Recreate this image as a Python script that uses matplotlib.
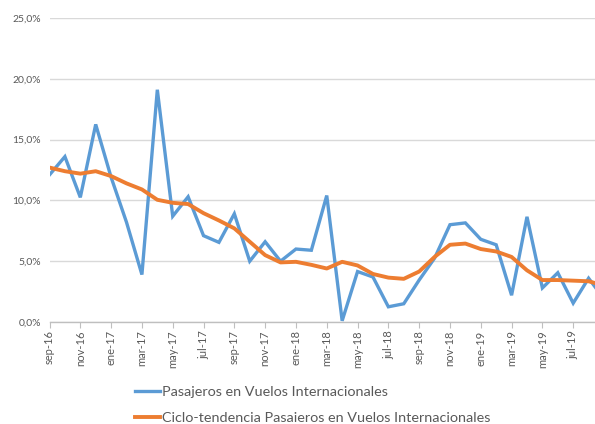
import matplotlib
matplotlib.use("Agg")
import matplotlib.pyplot as plt
from matplotlib.ticker import FuncFormatter

months = ["sep-16","oct-16","nov-16","dic-16","ene-17","feb-17","mar-17","abr-17","may-17","jun-17",
          "jul-17","ago-17","sep-17","oct-17","nov-17","dic-17","ene-18","feb-18","mar-18","abr-18",
          "may-18","jun-18","jul-18","ago-18","sep-18","oct-18","nov-18","dic-18","ene-19","feb-19",
          "mar-19","abr-19","may-19","jun-19","jul-19","ago-19","sep-19"]
pasajeros = [12.1, 13.6, 10.25, 16.25, 11.9, 8.2, 3.9, 19.1, 8.7, 10.3,
             7.1, 6.55, 8.9, 5.0, 6.6, 5.0, 6.0, 5.9, 10.4, 0.1,
             4.15, 3.7, 1.25, 1.5, 3.45, 5.25, 8.0, 8.15, 6.8, 6.35,
             2.2, 8.65, 2.8, 4.05, 1.55, 3.6, 1.9]
tendencia = [12.7, 12.4, 12.2, 12.4, 12.0, 11.4, 10.9, 10.05, 9.8, 9.7,
             8.95, 8.35, 7.7, 6.6, 5.5, 4.9, 4.95, 4.7, 4.4, 4.95,
             4.65, 3.95, 3.65, 3.55, 4.15, 5.35, 6.35, 6.45, 6.0, 5.8,
             5.35, 4.25, 3.45, 3.45, 3.4, 3.35, 3.0]
yticks = [0, 5, 10, 15, 20, 25]
label1 = "Pasajeros en Vuelos Internacionales"
label2 = "Ciclo-tendencia Pasaieros en Vuelos Internacionales"

plt.rcParams['font.family'] = ['Lato', 'DejaVu Sans']
gray = "#595959"

fig = plt.figure(figsize=(5.95, 4.24), dpi=100)
W, H = 595, 424
x0, x1 = 49.5, 604
y0, y1 = 322, 18
ax = fig.add_axes([x0 / W, 1 - y0 / H, (x1 - x0) / W, (y0 - y1) / H])

xs = list(range(len(months)))
l1, = ax.plot(xs, pasajeros, color="#5B9BD5", lw=2.4, solid_joinstyle="miter", zorder=3)
l2, = ax.plot(xs, tendencia, color="#ED7D31", lw=2.8, zorder=4)

ax.set_xlim(0, len(months) - 1)
ax.set_ylim(0, 25)
ax.set_yticks(yticks)
ax.yaxis.set_major_formatter(FuncFormatter(lambda v, p: f"{v:.1f}".replace(".", ",") + "%"))
ax.grid(axis="y", color="#d9d9d9", lw=1)
ax.set_axisbelow(True)
for s in ["top", "right", "left"]:
    ax.spines[s].set_visible(False)
ax.spines["bottom"].set_color("#bfbfbf")
ax.spines["bottom"].set_linewidth(1)
ax.tick_params(axis="y", length=0, labelsize=7.5, labelcolor=gray, pad=6)
ticks = xs[:-1:2]
ax.set_xticks(ticks)
ax.set_xticklabels([months[i] for i in ticks], rotation=90)
ax.tick_params(axis="x", length=4, color="#bfbfbf", labelsize=8, labelcolor=gray, pad=2)

fig.legend([l1, l2], [label1, label2], loc="upper left", bbox_to_anchor=(135 / W, 1 - 386 / H),
           frameon=False, fontsize=10.4, labelcolor=gray, handlelength=1.75, handletextpad=0.15,
           labelspacing=0.95, borderaxespad=0, borderpad=0)

fig.savefig("out.png", dpi=100)
